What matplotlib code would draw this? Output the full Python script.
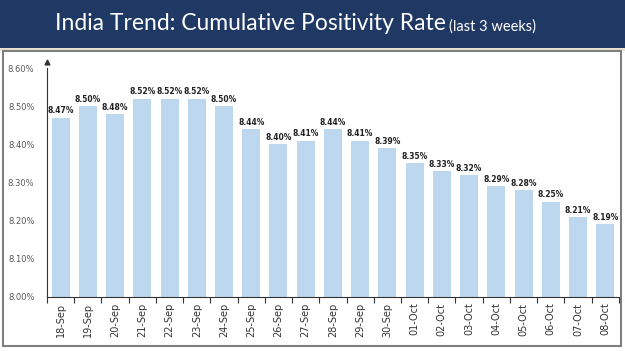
import matplotlib.pyplot as plt
from matplotlib.patches import Rectangle

# Daily cumulative positivity rate (%)
dates = ['18-Sep', '19-Sep', '20-Sep', '21-Sep', '22-Sep', '23-Sep', '24-Sep',
         '25-Sep', '26-Sep', '27-Sep', '28-Sep', '29-Sep', '30-Sep', '01-Oct',
         '02-Oct', '03-Oct', '04-Oct', '05-Oct', '06-Oct', '07-Oct', '08-Oct']
rates = [8.47, 8.50, 8.48, 8.52, 8.52, 8.52, 8.50, 8.44, 8.40, 8.41, 8.44,
         8.41, 8.39, 8.35, 8.33, 8.32, 8.29, 8.28, 8.25, 8.21, 8.19]
yticks = [8.0, 8.1, 8.2, 8.3, 8.4, 8.5, 8.6]

fig = plt.figure(figsize=(6.25, 3.51), dpi=100)

# navy title banner and white panel (behind the axes)
fig.patches.append(Rectangle((0, 0.862), 1, 0.138, transform=fig.transFigure,
                             facecolor='#1f3864', edgecolor='none', zorder=-3))
fig.patches.append(Rectangle((0, 0.855), 1, 0.007, transform=fig.transFigure,
                             facecolor='#e8e2cf', edgecolor='none', zorder=-3))
fig.patches.append(Rectangle((0.004, 0.015), 0.99, 0.84, transform=fig.transFigure,
                             facecolor='white', edgecolor='#7f7f7f', lw=1.5, zorder=-2))

fig.text(0.088, 0.932, 'India Trend: Cumulative Positivity Rate', color='white',
         fontsize=16.5, family='Lato', va='center', ha='left')
fig.text(0.718, 0.925, '(last 3 weeks)', color='white',
         fontsize=10.5, family='Lato', va='center', ha='left')

ax = fig.add_axes([0.0752, 0.154, 0.915, 0.652])
ax.patch.set_alpha(0)
x = list(range(len(dates)))
ax.bar(x, rates, width=0.66, color='#bdd7ee', zorder=2)

for xi, r in zip(x, rates):
    ax.text(xi, r + 0.006, f'{r:.2f}%', ha='center', va='bottom',
            fontsize=5.5, fontweight='bold', color='#222222')

ax.set_xlim(-0.5, len(dates) - 0.5)
ax.set_ylim(8.0, 8.6)
ax.set_yticks(yticks)
ax.set_yticklabels([f'{v:.2f}%' for v in yticks], fontsize=6, color='#595959')
ax.tick_params(axis='y', length=0, pad=9)

ax.set_xticks([i - 0.5 for i in range(len(dates) + 1)])
ax.set_xticklabels([])
ax.set_xticks(x, minor=True)
ax.set_xticklabels(dates, minor=True, rotation=90, fontsize=7, color='#333333')
ax.tick_params(axis='x', which='major', length=4, direction='out', color='#333333')
ax.tick_params(axis='x', which='minor', length=0, pad=4)

for s in ['top', 'right']:
    ax.spines[s].set_visible(False)
ax.spines['left'].set_bounds(8.0, 8.6)
ax.spines['left'].set_color('#333333')
ax.spines['bottom'].set_color('#333333')
ax.plot(-0.5, 8.615, marker='^', markersize=3.5, color='#333333', clip_on=False)

fig.savefig('out.png', dpi=100)
